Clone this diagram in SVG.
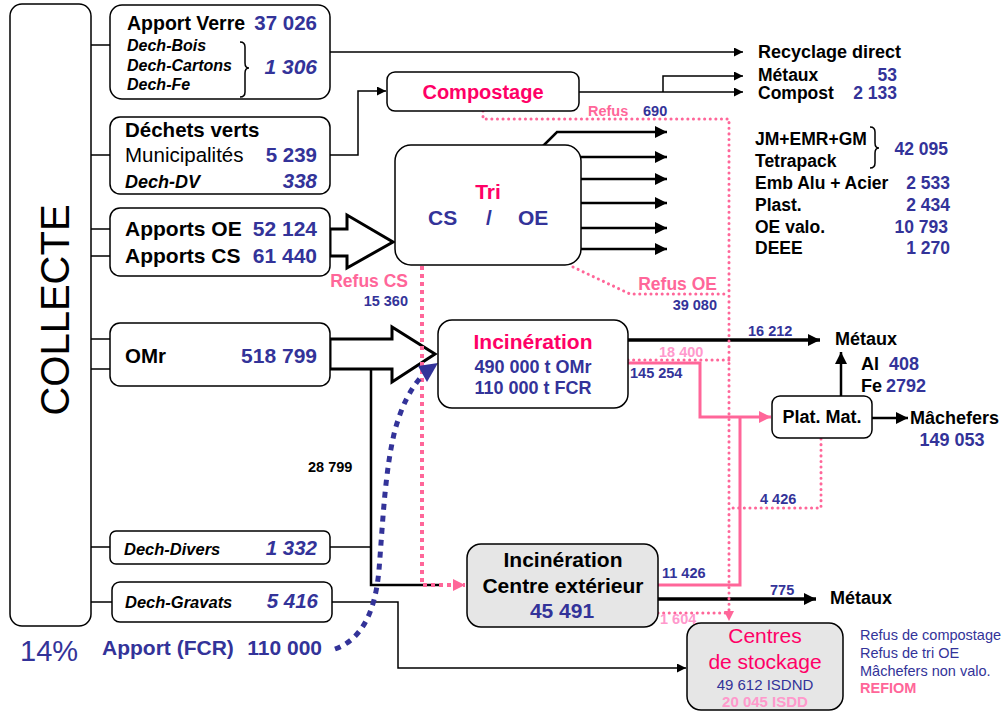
<svg xmlns="http://www.w3.org/2000/svg" width="1007" height="712" viewBox="0 0 1007 712">
<style>
text{font-family:"Liberation Sans",Arial,sans-serif}
.b{font-weight:bold}
.i{font-style:italic}
.bl{fill:#333399}
.pk{fill:#ff0066}
.pl{fill:#ff6699}
.lp{fill:#ff99cc}
.box{fill:#fff;stroke:#000;stroke-width:1.5}
.gbox{fill:#e6e6e6;stroke:#000;stroke-width:1.5}
.ln{fill:none;stroke:#000;stroke-width:1.5}
.lm{fill:none;stroke:#000;stroke-width:2.5}
.lt{fill:none;stroke:#000;stroke-width:3.5}
.blk{fill:#fff;stroke:#000;stroke-width:3;stroke-linejoin:miter}
.pd{fill:none;stroke:#ff6699;stroke-width:3;stroke-dasharray:0.1 5.5;stroke-linecap:round}
.pdt{fill:none;stroke:#ff6699;stroke-width:4;stroke-dasharray:4 4}
.ps{fill:none;stroke:#ff6699;stroke-width:3}
.bd{fill:none;stroke:#333399;stroke-width:5;stroke-dasharray:6 6}
.s14{font-size:14.5px}
.s18{font-size:18px}
</style>
<defs>
<marker id="aS" viewBox="0 0 10 10" refX="10" refY="5" markerWidth="11" markerHeight="9" markerUnits="userSpaceOnUse" orient="auto"><path d="M0,0 L10,5 L0,10 z" fill="#000"/></marker>
<marker id="aT" viewBox="0 0 10 10" refX="10" refY="5" markerWidth="14" markerHeight="12" markerUnits="userSpaceOnUse" orient="auto"><path d="M0,0 L10,5 L0,10 z" fill="#000"/></marker>
<marker id="aP" viewBox="0 0 10 10" refX="10" refY="5" markerWidth="14" markerHeight="12" markerUnits="userSpaceOnUse" orient="auto"><path d="M0,0 L10,5 L0,10 z" fill="#ff6699"/></marker>
<marker id="aPs" viewBox="0 0 10 10" refX="10" refY="5" markerWidth="11" markerHeight="10" markerUnits="userSpaceOnUse" orient="auto"><path d="M0,0 L10,5 L0,10 z" fill="#ff6699"/></marker>
</defs>
<rect width="1007" height="712" fill="#fff"/>

<g id="connectors">
  <path class="ln" d="M91,45 H110 M91,155 H110 M91,229 H110 M91,256 H110 M91,339 H110 M91,369 H110 M91,547 H110 M91,602 H112"/>
  <polygon class="blk" points="330,229 347,229 347,215 393,242 347,268 347,256 330,256"/>
  <polygon class="blk" points="330,339 392,339 392,327 435,354 392,382 392,369 330,369"/>
  <path class="ln" d="M330,52 H743" marker-end="url(#aS)"/>
  <path class="ln" d="M330,155 H358 V91 H386" marker-end="url(#aS)"/>
  <path class="ln" d="M579,92 H743" marker-end="url(#aS)"/>
  <path class="ln" d="M663,92 V76 H743" marker-end="url(#aS)"/>
  <path class="lm" d="M543,146 L557,132 H667" marker-end="url(#aT)"/>
  <path class="lm" d="M581,157 H667" marker-end="url(#aT)"/>
  <path class="lm" d="M581,179 H667" marker-end="url(#aT)"/>
  <path class="lm" d="M581,203 H667" marker-end="url(#aT)"/>
  <path class="lm" d="M581,228 H667" marker-end="url(#aT)"/>
  <path class="lm" d="M581,249 H667" marker-end="url(#aT)"/>
  <path class="lm" d="M371,369 V585 H440"/>
  <path class="ln" d="M330,547 H371"/>
  <path class="ln" d="M332,602 H398 V668 H686" marker-end="url(#aS)"/>
  <path class="lt" d="M628,340 H820" marker-end="url(#aT)"/>
  <path class="pd" d="M628,360 H729"/>
  <path class="ps" d="M628,363 H700 V417 H771" marker-end="url(#aP)"/>
  <path class="ps" d="M658,585 H740 V417"/>
  <path class="lm" d="M841,396 V352" marker-end="url(#aT)"/>
  <path class="lm" d="M872,418 H908" marker-end="url(#aT)"/>
  <path class="pd" d="M821,439 V508 H733"/>
  <path class="lt" d="M658,599 H816" marker-end="url(#aT)"/>
  <path class="pd" d="M658,613 H729"/>
  <path class="pd" d="M483,111 V119 H729 V621" marker-end="url(#aPs)"/>
  <path class="pd" d="M573,267 L630,294 H729"/>
  <path class="pdt" d="M422,266 V585 H465" marker-end="url(#aP)"/>
  <path class="bd" d="M335,649 C360,640 375,615 379,570 C383,520 385,470 395,430 C402,405 410,390 421,377"/>
  <polygon points="438,363 418,366 427,382" fill="#333399"/>
</g>

<g id="collecte">
  <rect class="box" x="10" y="4" width="81" height="622" rx="12"/>
  <text x="0" y="0" font-size="40" text-anchor="middle" transform="translate(69,310) rotate(-90)">COLLECTE</text>
  <text x="20" y="661" font-size="29" class="bl">14%</text>
</g>

<g id="n-apport-verre">
  <rect class="box" x="110" y="5" width="220" height="94" rx="12"/>
  <text x="127" y="30" font-size="19.5" class="b">Apport Verre</text>
  <text x="317" y="30" font-size="20.5" class="b bl" text-anchor="end">37 026</text>
  <text x="127" y="51" font-size="16" class="b i">Dech-Bois</text>
  <text x="127" y="71" font-size="16" class="b i">Dech-Cartons</text>
  <text x="127" y="90" font-size="16" class="b i">Dech-Fe</text>
  <path class="ln" d="M240,42 Q245,42 245,47 V63 Q245,68 249,68 Q245,68 245,73 V92 Q245,97 240,97"/>
  <text x="317" y="74" font-size="21" class="b i bl" text-anchor="end">1 306</text>
</g>

<g id="n-dechets-verts">
  <rect class="box" x="110" y="117" width="220" height="77" rx="10"/>
  <text x="125" y="137" font-size="20.5" class="b">Déchets verts</text>
  <text x="125" y="162" font-size="20.5">Municipalités</text>
  <text x="317" y="162" font-size="20.5" class="b bl" text-anchor="end">5 239</text>
  <text x="125" y="188" font-size="18" class="b i">Dech-DV</text>
  <text x="317" y="188" font-size="20.5" class="b i bl" text-anchor="end">338</text>
</g>

<g id="n-apports">
  <rect class="box" x="110" y="208" width="220" height="68" rx="10"/>
  <text x="125" y="236" font-size="21" class="b">Apports OE</text>
  <text x="317" y="236" font-size="21" class="b bl" text-anchor="end">52 124</text>
  <text x="125" y="263" font-size="21" class="b">Apports CS</text>
  <text x="317" y="263" font-size="21" class="b bl" text-anchor="end">61 440</text>
</g>

<g id="n-omr">
  <rect class="box" x="110" y="323" width="220" height="63" rx="10"/>
  <text x="125" y="363" font-size="20.5" class="b">OMr</text>
  <text x="317" y="363" font-size="21" class="b bl" text-anchor="end">518 799</text>
</g>

<g id="n-divers">
  <rect class="box" x="110" y="531" width="220" height="33" rx="6"/>
  <text x="124" y="555" font-size="16.5" class="b i">Dech-Divers</text>
  <text x="317" y="555" font-size="20.5" class="b i bl" text-anchor="end">1 332</text>
</g>

<g id="n-gravats">
  <rect class="box" x="112" y="582" width="220" height="40" rx="8"/>
  <text x="125" y="608" font-size="16.5" class="b i">Dech-Gravats</text>
  <text x="318" y="608" font-size="20.5" class="b i bl" text-anchor="end">5 416</text>
</g>

<g id="n-fcr">
  <text x="102" y="655" font-size="21" class="b bl">Apport (FCR)</text>
  <text x="322" y="655" font-size="21" class="b bl" text-anchor="end">110 000</text>
</g>

<g id="n-compostage">
  <rect class="box" x="387" y="72" width="192" height="39" rx="8"/>
  <text x="483" y="99" font-size="20" class="b pk" text-anchor="middle">Compostage</text>
</g>

<g id="n-tri">
  <rect class="box" x="395" y="145" width="186" height="120" rx="16"/>
  <text x="488" y="199" font-size="21" class="b pk" text-anchor="middle">Tri</text>
  <text x="428" y="225" font-size="21" class="b bl">CS</text>
  <text x="489" y="225" font-size="21" class="b bl" text-anchor="middle">/</text>
  <text x="518" y="225" font-size="21" class="b bl">OE</text>
</g>

<g id="n-incineration">
  <rect class="box" x="438" y="320" width="190" height="88" rx="14"/>
  <text x="533" y="349" font-size="21" class="b pk" text-anchor="middle">Incinération</text>
  <text x="533" y="373" font-size="18" class="b bl" text-anchor="middle">490 000 t OMr</text>
  <text x="533" y="394" font-size="18" class="b bl" text-anchor="middle">110 000 t FCR</text>
</g>

<g id="n-inc-ext">
  <rect class="gbox" x="467" y="544" width="191" height="83" rx="14"/>
  <text x="563" y="567" font-size="21" class="b" text-anchor="middle">Incinération</text>
  <text x="563" y="593" font-size="21" class="b" text-anchor="middle">Centre extérieur</text>
  <text x="562" y="618" font-size="21" class="b bl" text-anchor="middle">45 491</text>
</g>

<g id="n-platmat">
  <rect class="box" x="772" y="396" width="100" height="42" rx="8"/>
  <text x="822" y="423" font-size="18" class="b" text-anchor="middle">Plat. Mat.</text>
</g>

<g id="n-stockage">
  <rect class="gbox" x="687" y="623" width="156" height="87" rx="14"/>
  <text x="765" y="643" font-size="21" class="pk" text-anchor="middle">Centres</text>
  <text x="765" y="669" font-size="21" class="pk" text-anchor="middle">de stockage</text>
  <text x="765" y="690" font-size="15" class="bl" text-anchor="middle">49 612 ISDND</text>
  <text x="765" y="707" font-size="15" class="b lp" text-anchor="middle">20 045 ISDD</text>
</g>

<g id="n-legend">
  <text x="860" y="640" font-size="14.5" class="bl">Refus de compostage</text>
  <text x="860" y="658" font-size="14.5" class="bl">Refus de tri OE</text>
  <text x="860" y="676" font-size="14.5" class="bl">Mâchefers non valo.</text>
  <text x="860" y="693" font-size="14.5" class="b pl">REFIOM</text>
</g>

<g id="n-outputs-top">
  <text x="758" y="58" class="b s18">Recyclage direct</text>
  <text x="758" y="81" font-size="17.5" class="b">Métaux</text>
  <text x="897" y="81" font-size="17.5" class="b bl" text-anchor="end">53</text>
  <text x="758" y="99" font-size="17.5" class="b">Compost</text>
  <text x="897" y="99" font-size="17.5" class="b bl" text-anchor="end">2 133</text>
</g>

<g id="n-outputs-tri">
  <text x="755" y="145" font-size="17.5" class="b">JM+EMR+GM</text>
  <text x="755" y="167" font-size="17.5" class="b">Tetrapack</text>
  <path class="ln" d="M870,127 Q875,127 875,132 V143 Q875,148 879,148 Q875,148 875,153 V163 Q875,168 870,168"/>
  <text x="948" y="155" font-size="17.5" class="b bl" text-anchor="end">42 095</text>
  <text x="755" y="189" font-size="17.5" class="b">Emb Alu + Acier</text>
  <text x="950" y="189" font-size="17.5" class="b bl" text-anchor="end">2 533</text>
  <text x="755" y="211" font-size="17.5" class="b">Plast.</text>
  <text x="950" y="211" font-size="17.5" class="b bl" text-anchor="end">2 434</text>
  <text x="755" y="233" font-size="17.5" class="b">OE valo.</text>
  <text x="948" y="233" font-size="17.5" class="b bl" text-anchor="end">10 793</text>
  <text x="755" y="254" font-size="17.5" class="b">DEEE</text>
  <text x="950" y="254" font-size="17.5" class="b bl" text-anchor="end">1 270</text>
</g>

<g id="n-outputs-inc">
  <text x="835" y="345" class="b s18">Métaux</text>
  <text x="861" y="370" class="b s18">Al</text>
  <text x="889" y="370" class="b s18 bl">408</text>
  <text x="861" y="392" class="b s18">Fe</text>
  <text x="886" y="392" class="b s18 bl">2792</text>
  <text x="910" y="424" class="b s18">Mâchefers</text>
  <text x="952" y="446" class="b s18 bl" text-anchor="middle">149 053</text>
  <text x="830" y="604" class="b s18">Métaux</text>
</g>

<g id="labels">
  <text x="588" y="116" class="b s14 pl">Refus</text>
  <text x="643" y="116" class="b s14 bl">690</text>
  <text x="408" y="287" font-size="17.5" class="b pl" text-anchor="end">Refus CS</text>
  <text x="408" y="306" class="b s14 bl" text-anchor="end">15 360</text>
  <text x="717" y="290" font-size="17.5" class="b pl" text-anchor="end">Refus OE</text>
  <text x="717" y="310" class="b s14 bl" text-anchor="end">39 080</text>
  <text x="748" y="336" class="b s14 bl">16 212</text>
  <text x="659" y="357" class="b s14 lp">18 400</text>
  <text x="630" y="378" class="b s14 bl">145 254</text>
  <text x="760" y="504" class="b s14 bl">4 426</text>
  <text x="308" y="472" class="b s14">28 799</text>
  <text x="662" y="578" class="b s14 bl">11 426</text>
  <text x="770" y="595" class="b s14 bl">775</text>
  <text x="660" y="624" class="b s14 lp">1 604</text>
</g>
</svg>
